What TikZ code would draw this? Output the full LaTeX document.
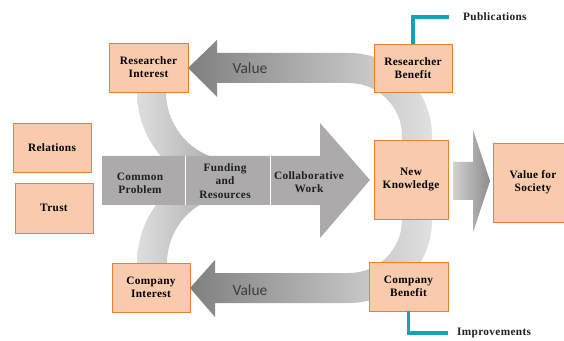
\documentclass[tikz,border=0pt]{standalone}
\usepackage{fontspec}
\usetikzlibrary{calc}
\setmainfont[LetterSpace=3]{Liberation Serif}
\newfontfamily\valuefont{Carlito}
\definecolor{boxfill}{RGB}{248,203,173}
\definecolor{boxline}{RGB}{237,125,49}
\definecolor{teal}{RGB}{22,163,180}
\definecolor{flowgray}{RGB}{172,170,170}
\definecolor{valuetext}{RGB}{60,60,60}
\begin{document}
\begin{tikzpicture}[x=1pt,y=1pt,
  box/.style={draw=boxline, fill=boxfill, line width=0.9pt, align=center,
    font=\bfseries\fontsize{11.3}{13.2}\selectfont, inner sep=0pt},
  lbl/.style={align=center, font=\bfseries\fontsize{11.3}{13.2}\selectfont, text=black!88},
  valuelbl/.style={font=\valuefont\fontsize{15.5}{18}\selectfont, text=valuetext},
  link/.style={draw=teal, line width=3.2pt},
  loopband/.style={left color=black!50, right color=black!12},
  sidearc/.style={left color=black!13, right color=black!32},
]
\clip (0,0) rectangle (564,340);
\fill[white] (0,0) rectangle (564,340);

% curved feeds from the two interests into the main flow
\path[sidearc] (166,248) arc[start angle=180,end angle=255,radius=69]
  -- ($(235,248)+(255:98)$) arc[start angle=255,end angle=180,radius=98] -- cycle;
\path[sidearc] (167,77) arc[start angle=180,end angle=105,radius=68]
  -- ($(235,77)+(105:98)$) arc[start angle=105,end angle=180,radius=98] -- cycle;

% value flowing back to the researcher (top) and company (bottom)
\path[loopband] (188,272) -- (217,300) -- (217,287) -- (349,287)
  arc[start angle=90,end angle=0,radius=83] -- (432,190) -- (402,190) -- (402,204)
  arc[start angle=0,end angle=90,radius=53] -- (217,257) -- (217,243) -- cycle;
\path[loopband] (190,52) -- (215,80) -- (215,67) -- (349,67)
  arc[start angle=270,end angle=360,radius=53] -- (402,130) -- (432,130) -- (432,120)
  arc[start angle=0,end angle=-90,radius=83] -- (215,37) -- (215,23) -- cycle;

% main flow arrow
\fill[flowgray] (102,135) -- (320,135) -- (320,102) -- (370,160) -- (320,217)
  -- (320,184) -- (102,184) -- cycle;
\draw[white, line width=0.6pt] (185,135) -- (185,184) (270,135) -- (270,184);

% arrow toward society
\path[left color=black!18, right color=black!45] (453,140) -- (473,140) -- (473,108)
  -- (490,159) -- (473,210) -- (473,178) -- (453,178) -- cycle;

% boxes
\node[box, minimum width=79pt, minimum height=49pt] (ri) at (148.5,272.5) {Researcher\\Interest};
\node[box, minimum width=78pt, minimum height=49pt] (rel) at (52,192.5) {Relations};
\node[box, minimum width=78pt, minimum height=50pt] (tr) at (54,132) {Trust};
\node[box, minimum width=78pt, minimum height=49pt] (ci) at (151,52.5) {Company\\Interest};
\node[box, minimum width=78pt, minimum height=48pt] (rb) at (413,272) {Researcher\\Benefit};
\node[box, minimum width=74pt, minimum height=79pt] (nk) at (411,160.5) {New\\Knowledge};
\node[box, minimum width=80pt, minimum height=79pt] (vs) at (533,157.5) {Value for\\Society};
\node[box, minimum width=79pt, minimum height=49pt] (cb) at (408.5,53.5) {Company\\Benefit};

% labels on the flows
\node[lbl] (cp) at (140,157) {Common\\Problem};
\node[lbl] (fr) at (225,159) {Funding\\and\\Resources};
\node[lbl] (cw) at (309,158) {Collaborative\\Work};
\node[valuelbl] (vt) at (250,272) {Value};
\node[valuelbl] (vb) at (250,50) {Value};

% outcomes
\node[lbl, anchor=west, inner sep=0pt] (pub) at (463,323) {Publications};
\node[lbl, anchor=west, inner sep=0pt] (imp) at (457,7) {Improvements};
\draw[link] (cb.south) |- ([xshift=-9pt]imp.west);
\draw[link] (rb.north) |- ([xshift=-14pt]pub.west);
\end{tikzpicture}
\end{document}
